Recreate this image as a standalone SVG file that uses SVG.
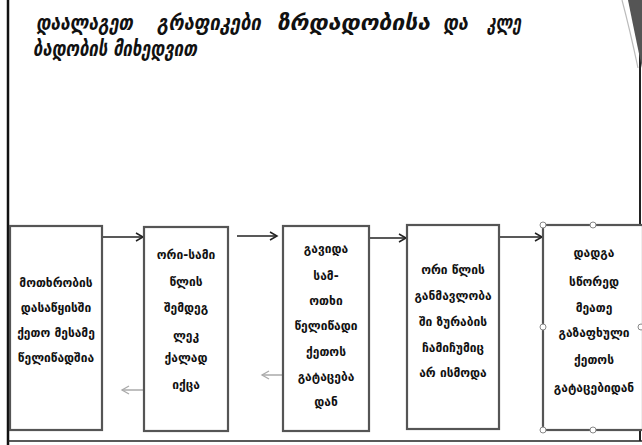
<svg xmlns="http://www.w3.org/2000/svg" width="642" height="445" viewBox="0 0 642 445">
<defs>
<style>
.title{font-family:"DejaVu Sans",sans-serif;font-weight:bold;font-style:italic;font-size:21px;fill:#111}
.lbl{font-family:"DejaVu Sans",sans-serif;font-weight:bold;font-size:12px;fill:#111;text-anchor:middle}
.box{fill:#fff;stroke:#555;stroke-width:2.2}
.conn{stroke:#222;stroke-width:1.5;fill:none}
.back{stroke:#aaa;stroke-width:1.5;fill:none}
.hdl{fill:#fff;stroke:#888;stroke-width:1}
</style>
<marker id="ah" markerWidth="10" markerHeight="10" refX="8" refY="5" orient="auto" markerUnits="userSpaceOnUse">
<path d="M1,1 L8,5 L1,9" fill="none" stroke="#222" stroke-width="1.5"/>
</marker>
<marker id="ahg" markerWidth="10" markerHeight="10" refX="8" refY="5" orient="auto" markerUnits="userSpaceOnUse">
<path d="M1,1 L8,5 L1,9" fill="none" stroke="#aaa" stroke-width="1.3"/>
</marker>
</defs>
<rect width="642" height="445" fill="#fff"/>
<g id="frame">
<line x1="8" y1="0" x2="8" y2="445" stroke="#111" stroke-width="2.5"/>
<line x1="640" y1="0" x2="640" y2="441" stroke="#222" stroke-width="2"/>
<line x1="8" y1="441" x2="642" y2="441" stroke="#222" stroke-width="1.5"/>
<path d="M628,0 Q634,30 642,68 L642,0 Z" fill="#555"/>
<path d="M622,0 Q630,30 638,68" fill="none" stroke="#bbb" stroke-width="1.2"/>
</g>
<g id="title">
<text class="title" x="36" y="30" textLength="97" lengthAdjust="spacingAndGlyphs">დაალაგეთ</text>
<text class="title" x="157" y="30" textLength="104" lengthAdjust="spacingAndGlyphs">გრაფიკები</text>
<text class="title" x="277" y="30" textLength="153" lengthAdjust="spacingAndGlyphs">ზრდადობისა</text>
<text class="title" x="443" y="30" textLength="25" lengthAdjust="spacingAndGlyphs">და</text>
<text class="title" x="487" y="30" textLength="34" lengthAdjust="spacingAndGlyphs">კლე</text>
<text class="title" x="33" y="56" textLength="164" lengthAdjust="spacingAndGlyphs">ბადობის მიხედვით</text>
</g>
<g id="connectors">
<line class="conn" x1="103" y1="237" x2="143" y2="237" marker-end="url(#ah)"/>
<line class="conn" x1="237" y1="236" x2="277" y2="236" marker-end="url(#ah)"/>
<line class="conn" x1="370" y1="238" x2="406" y2="238" marker-end="url(#ah)"/>
<line class="conn" x1="500" y1="237" x2="542" y2="237" marker-end="url(#ah)"/>
<line class="back" x1="167" y1="390" x2="122" y2="390" marker-end="url(#ahg)"/>
<line class="back" x1="300" y1="375" x2="262" y2="375" marker-end="url(#ahg)"/>
</g>
<g id="node1">
<rect class="box" x="10" y="226" width="92" height="204"/>
<text class="lbl"><tspan x="56" y="287">მოთხრობის</tspan><tspan x="56" y="312">დასაწყისში</tspan><tspan x="56" y="337">ქეთო მესამე</tspan><tspan x="56" y="362">წელიწადშია</tspan></text>
</g>
<g id="node2">
<rect class="box" x="144" y="227" width="84" height="204"/>
<text class="lbl"><tspan x="186" y="259">ორი-სამი</tspan><tspan x="186" y="286">წლის</tspan><tspan x="186" y="312">შემდეგ</tspan><tspan x="186" y="340">ლეკ</tspan><tspan x="186" y="362">ქალად</tspan><tspan x="186" y="389">იქცა</tspan></text>
</g>
<g id="node3">
<rect class="box" x="283" y="226" width="86" height="205"/>
<text class="lbl"><tspan x="326" y="253">გავიდა</tspan><tspan x="326" y="280">სამ-</tspan><tspan x="326" y="305">ოთხი</tspan><tspan x="326" y="330">წელიწადი</tspan><tspan x="326" y="356">ქეთოს</tspan><tspan x="326" y="381">გატაცება</tspan><tspan x="326" y="406">დან</tspan></text>
</g>
<g id="node4">
<rect class="box" x="407" y="225" width="92" height="204"/>
<text class="lbl"><tspan x="453" y="274">ორი წლის</tspan><tspan x="453" y="300">განმავლობა</tspan><tspan x="453" y="326">ში ზურაბის</tspan><tspan x="453" y="352">ჩამიჩუმიც</tspan><tspan x="453" y="377">არ ისმოდა</tspan></text>
</g>
<g id="node5">
<rect class="box" x="543" y="225" width="100" height="205"/>
<text class="lbl"><tspan x="594" y="257">დადგა</tspan><tspan x="594" y="286">სწორედ</tspan><tspan x="594" y="312">მეათე</tspan><tspan x="594" y="337">გაზაფხული</tspan><tspan x="594" y="364">ქეთოს</tspan><tspan x="594" y="392">გატაცებიდან</tspan></text>
<circle class="hdl" cx="543" cy="225" r="3"/>
<circle class="hdl" cx="593" cy="225" r="3"/>
<circle class="hdl" cx="543" cy="327" r="3"/>
<circle class="hdl" cx="641" cy="327" r="3"/>
<circle class="hdl" cx="543" cy="430" r="3"/>
<circle class="hdl" cx="593" cy="430" r="3"/>
</g>
</svg>
